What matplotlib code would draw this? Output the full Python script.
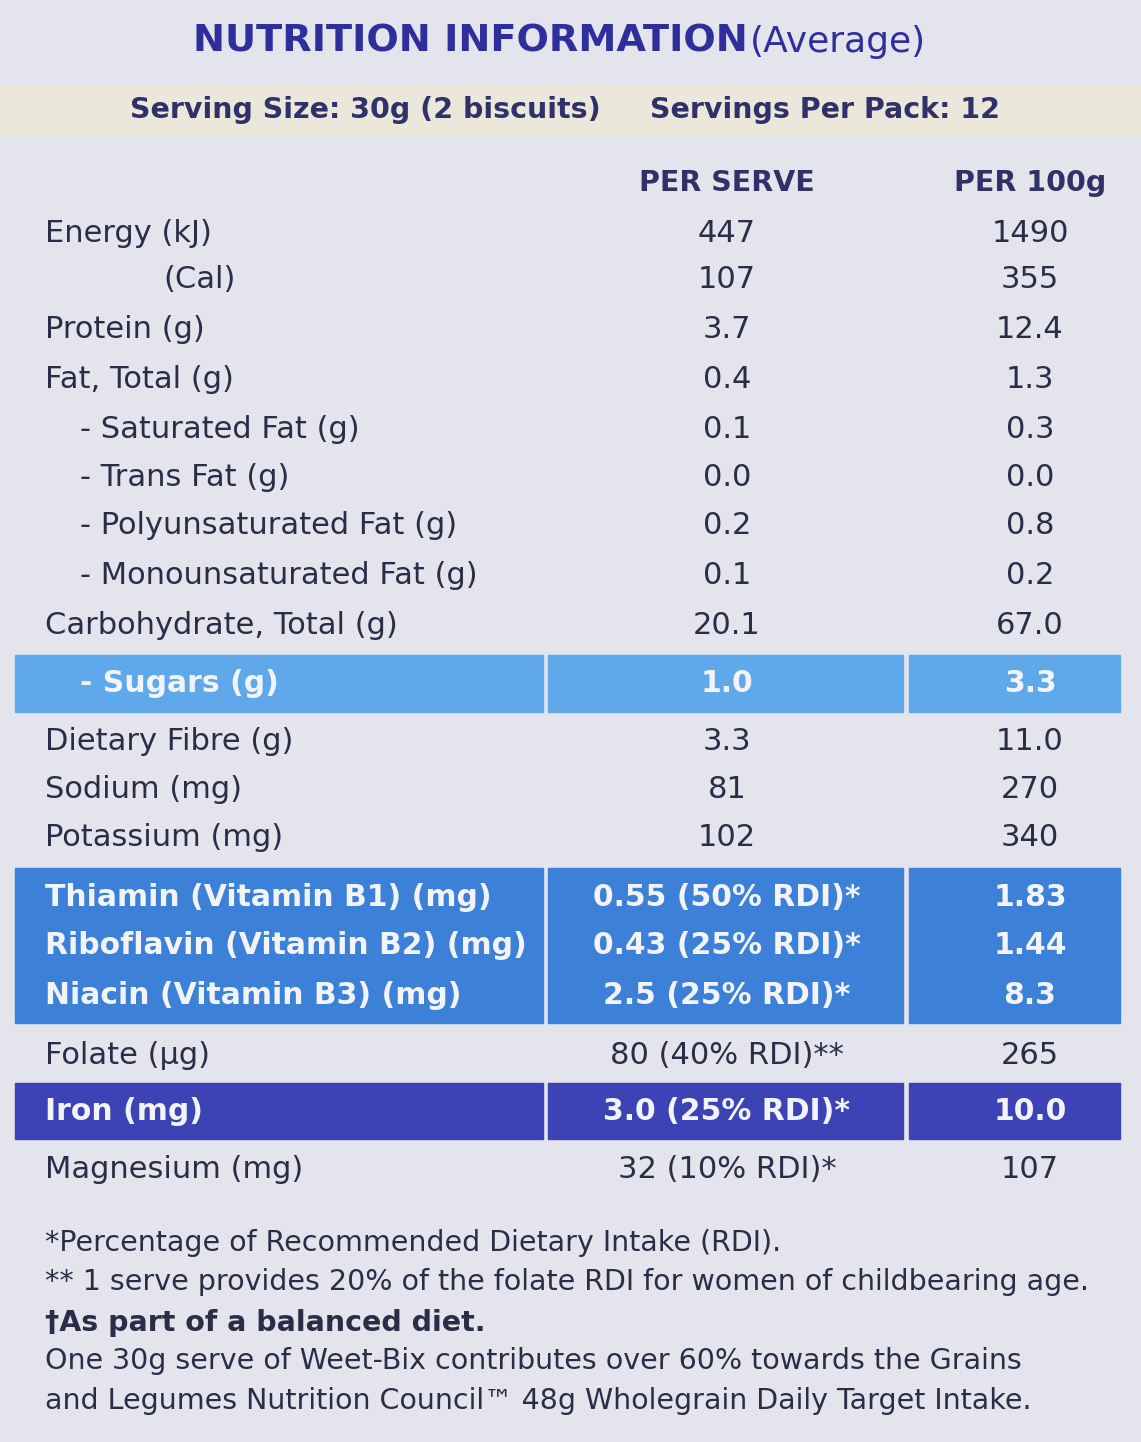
import matplotlib
matplotlib.use("Agg")
import matplotlib.pyplot as plt
from matplotlib.patches import Rectangle

title_bold = "NUTRITION INFORMATION"
title_rest = "(Average)"
serving = "Serving Size: 30g (2 biscuits)"
servings_pack = "Servings Per Pack: 12"
col_heads = ["PER SERVE", "PER 100g"]
labels = ["Energy (kJ)", "(Cal)", "Protein (g)", "Fat, Total (g)", "- Saturated Fat (g)",
          "- Trans Fat (g)", "- Polyunsaturated Fat (g)", "- Monounsaturated Fat (g)",
          "Carbohydrate, Total (g)", "- Sugars (g)", "Dietary Fibre (g)", "Sodium (mg)",
          "Potassium (mg)", "Thiamin (Vitamin B1) (mg)", "Riboflavin (Vitamin B2) (mg)",
          "Niacin (Vitamin B3) (mg)", "Folate (\u00b5g)", "Iron (mg)", "Magnesium (mg)"]
per_serve = ["447", "107", "3.7", "0.4", "0.1", "0.0", "0.2", "0.1", "20.1", "1.0", "3.3",
             "81", "102", "0.55 (50% RDI)*", "0.43 (25% RDI)*", "2.5 (25% RDI)*",
             "80 (40% RDI)**", "3.0 (25% RDI)*", "32 (10% RDI)*"]
per_100g = ["1490", "355", "12.4", "1.3", "0.3", "0.0", "0.8", "0.2", "67.0", "3.3", "11.0",
            "270", "340", "1.83", "1.44", "8.3", "265", "10.0", "107"]
footnotes = ["*Percentage of Recommended Dietary Intake (RDI).",
             "** 1 serve provides 20% of the folate RDI for women of childbearing age.",
             "\u2020As part of a balanced diet.",
             "One 30g serve of Weet-Bix contributes over 60% towards the Grains",
             "and Legumes Nutrition Council\u2122 48g Wholegrain Daily Target Intake."]

row_y = [233, 280, 330, 380, 430, 478, 526, 576, 626, 684, 742, 790, 838,
         897, 946, 996, 1055, 1112, 1170]
label_x = [45, 163, 45, 45, 80, 80, 80, 80, 45, 80, 45, 45, 45, 45, 45, 45, 45, 45, 45]
light_rows = {9}
vit_rows = {13, 14, 15}
iron_rows = {17}

fig = plt.figure(figsize=(11.41, 14.42), dpi=100)
fig.patch.set_facecolor("#e4e4ec")
ax = fig.add_axes([0, 0, 1, 1])
ax.set_xlim(0, 1141); ax.set_ylim(1442, 0); ax.axis("off")

txt = "#2b2d48"
blue = "#2e2f9c"
ax.add_patch(Rectangle((0, 85), 1141, 50, color="#ebe7da"))
for (y0, y1, c) in [(655, 712, "#5fa9ea"), (868, 1023, "#3d80d8"), (1083, 1139, "#3c44b5")]:
    for (x0, x1) in [(15, 543), (548, 903), (909, 1120)]:
        ax.add_patch(Rectangle((x0, y0), x1 - x0, y1 - y0, color=c))

ax.text(193, 42, title_bold, fontsize=27.5, fontweight="bold", color=blue, va="center")
ax.text(750, 42, title_rest, fontsize=26, color=blue, va="center")
ax.text(130, 110, serving, fontsize=20.5, fontweight="bold", color="#2f3168", va="center")
ax.text(650, 110, servings_pack, fontsize=20.5, fontweight="bold", color="#2f3168", va="center")
ax.text(727, 183, col_heads[0], fontsize=20.5, fontweight="bold", color="#2f3168", va="center", ha="center")
ax.text(1030, 183, col_heads[1], fontsize=20.5, fontweight="bold", color="#2f3168", va="center", ha="center")

for i, (lab, a, b, y, x) in enumerate(zip(labels, per_serve, per_100g, row_y, label_x)):
    special = i in light_rows or i in vit_rows or i in iron_rows
    c = "#f2f4fa" if special else txt
    w = "bold" if special else "normal"
    fs = 21.5 if special else 22
    ax.text(x, y, lab, fontsize=fs, color=c, fontweight=w, va="center")
    ax.text(727, y, a, fontsize=fs, color=c, fontweight=w, va="center", ha="center")
    ax.text(1030, y, b, fontsize=fs, color=c, fontweight=w, va="center", ha="center")

foot_y = [1243, 1282, 1323, 1361, 1401]
for i, (t, y) in enumerate(zip(footnotes, foot_y)):
    ax.text(45, y, t, fontsize=20.5, color=txt, va="center",
            fontweight="bold" if i == 2 else "normal")

fig.savefig("out.png", dpi=100, facecolor=fig.get_facecolor())
